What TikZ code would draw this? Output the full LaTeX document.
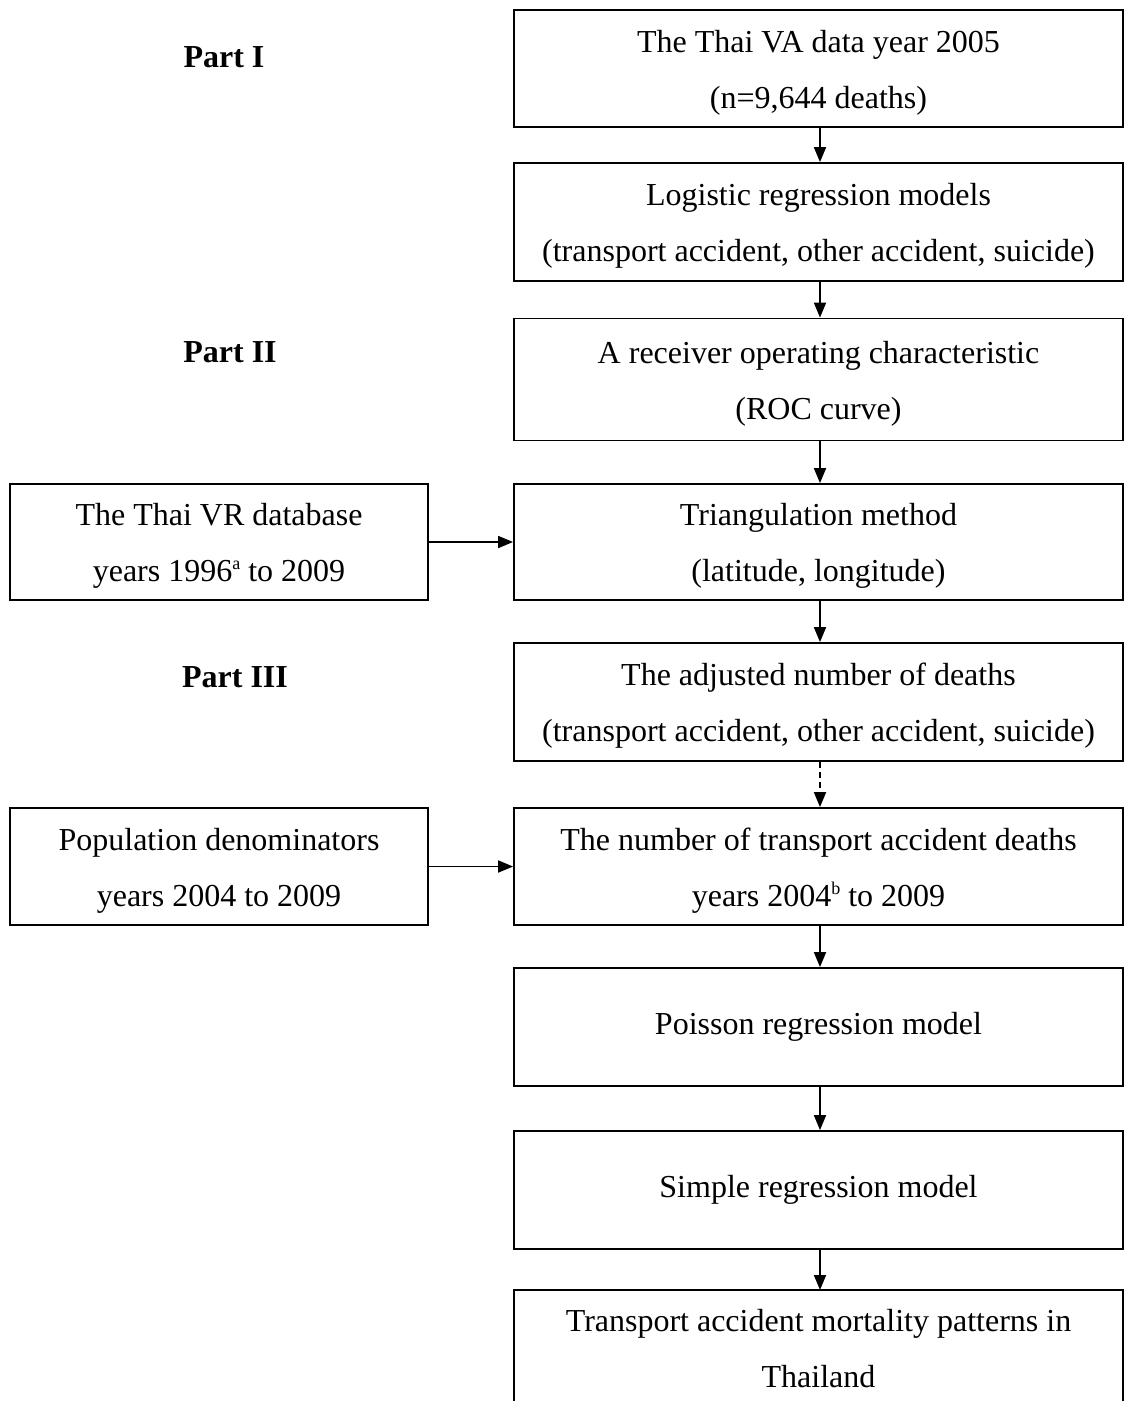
\documentclass[tikz,border=0pt]{standalone}
\usepackage{fontspec}
\setmainfont{Liberation Serif}
\usetikzlibrary{arrows.meta}
\newcommand{\supx}[1]{\raisebox{12pt}{\fontsize{18}{18}\selectfont #1}}
\newcommand{\tstrut}{\rule{0pt}{30pt}}
\begin{document}
\begin{tikzpicture}[x=1pt,y=-1pt,
  box/.style={draw,line width=1.8pt,align=center,inner sep=0pt,
    font=\fontsize{32}{56}\selectfont},
  rbox/.style={box,minimum width=609pt},
  lbox/.style={box,minimum width=418pt},
  arr/.style={line width=1.8pt,-{Triangle[length=15pt,width=12pt]}},
  part/.style={font=\fontsize{32}{38}\selectfont\bfseries}]
\useasboundingbox (0,0) rectangle (1125,1401);
\node[rbox,minimum height=117pt] (b1) at (818.5,68.5) {\tstrut The Thai VA data year 2005\\(n=9,644 deaths)};
\node[rbox,minimum height=118pt] (b2) at (818.5,222) {\tstrut Logistic regression models\\(transport accident, other accident, suicide)};
\node[rbox,minimum height=122pt] (b3) at (818.5,379.5) {\tstrut A receiver operating characteristic\\(ROC curve)};
\node[rbox,minimum height=116pt] (b4) at (818.5,542) {\tstrut Triangulation method\\(latitude, longitude)};
\node[rbox,minimum height=118pt] (b5) at (818.5,702) {\tstrut The adjusted number of deaths\\(transport accident, other accident, suicide)};
\node[rbox,minimum height=117pt] (b6) at (818.5,866.5) {\tstrut The number of transport accident deaths\\years 2004\supx{b} to 2009};
\node[rbox,minimum height=118pt] (b7) at (818.5,1027) {\raisebox{8pt}{Poisson regression model}};
\node[rbox,minimum height=118pt] (b8) at (818.5,1190) {\raisebox{8pt}{Simple regression model}};
\node[lbox,minimum height=116pt] (vr) at (219,542) {\tstrut The Thai VR database\\years 1996\supx{a} to 2009};
\node[lbox,minimum height=117pt] (pop) at (219,866.5) {\tstrut Population denominators\\years 2004 to 2009};
% last box, open at the bottom
\coordinate (b9tl) at (514,1290);
\coordinate (b9tr) at (1123,1290);
\draw[line width=1.8pt] (514,1401) -- (b9tl) -- (b9tr) -- (1123,1401);
\node[font=\fontsize{32}{56}\selectfont,align=center,anchor=north] (b9) at (818.5,1306) {Transport accident mortality patterns in\\Thailand};
\node[part] (p1) at (224,57) {Part I};
\node[part] (p2) at (230,352) {Part II};
\node[part] (p3) at (235,677) {Part III};
\draw[arr] (b1.south -| 820,0) -- (b2.north -| 820,0);
\draw[arr] (b2.south -| 820,0) -- (b3.north -| 820,0);
\draw[arr] (b3.south -| 820,0) -- (b4.north -| 820,0);
\draw[arr] (b4.south -| 820,0) -- (b5.north -| 820,0);
\draw[arr,dash pattern=on 6pt off 4pt] (b5.south -| 820,0) -- (b6.north -| 820,0);
\draw[arr] (b6.south -| 820,0) -- (b7.north -| 820,0);
\draw[arr] (b7.south -| 820,0) -- (b8.north -| 820,0);
\draw[arr] (b8.south -| 820,0) -- (b9tl -| 820,0);
\draw[arr] (vr.east) -- (b4.west);
\draw[arr] (pop.east) -- (b6.west);
\end{tikzpicture}
\end{document}
